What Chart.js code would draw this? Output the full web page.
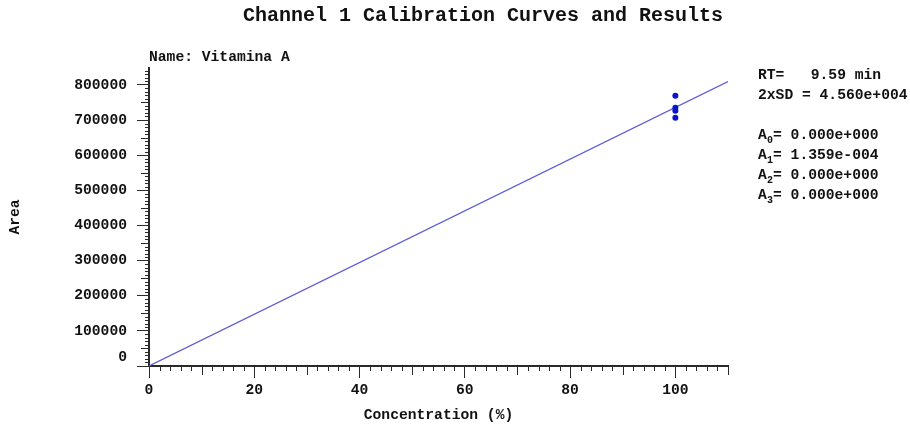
<!DOCTYPE html>
<html>
<head>
<meta charset="utf-8">
<script src="https://cdn.jsdelivr.net/npm/chart.js@4/dist/chart.umd.min.js"></script>
<style>
html,body{margin:0;padding:0;background:#fff;}
#wrap{position:relative;width:910px;height:427px;}
</style>
</head>
<body>
<div id="wrap"><canvas id="c" width="910" height="427"></canvas></div>
<script>
// ---- data ----
const chartTitle = "Channel 1 Calibration Curves and Results";
const compoundName = "Name: Vitamina A";
const xAxisTitle = "Concentration (%)";
const yAxisTitle = "Area";
const calX = [100, 100, 100, 100];
const calY = [769000, 735000, 726500, 706500];
const fitX = [0, 110];
const fitY = [0, 809400];
const xRange = [0, 110];
const yRange = [0, 848000];
const xTickValues = [0, 20, 40, 60, 80, 100];
const yTickValues = [0, 100000, 200000, 300000, 400000, 500000, 600000, 700000, 800000];
const resultLines = ["RT=   9.59 min", "2xSD = 4.560e+004"];
const coefSubs = ["0", "1", "2", "3"];
const coefVals = ["0.000e+000", "1.359e-004", "0.000e+000", "0.000e+000"];

const FONT = '"Liberation Mono", "Courier New", monospace';
const AX = '#2a2a2a';

const minorTicks = {
  id: 'minorTicks',
  afterDraw(chart) {
    const ctx = chart.ctx;
    const xs = chart.scales.x, ys = chart.scales.y;
    const ca = chart.chartArea;
    ctx.save();
    ctx.strokeStyle = AX;
    ctx.lineWidth = 1;
    // y minor ticks
    for (let v = yRange[0]; v <= yRange[1]; v += 10000) {
      if (v % 100000 === 0) continue;
      const len = (v % 50000 === 0) ? 8 : 4;
      const y = Math.round(ys.getPixelForValue(v)) + 0.5;
      ctx.beginPath(); ctx.moveTo(ca.left - len, y); ctx.lineTo(ca.left, y); ctx.stroke();
    }
    // x minor ticks
    for (let v = xRange[0]; v <= xRange[1]; v += 2) {
      if (v % 20 === 0) continue;
      const len = (v % 10 === 0) ? 9 : 5;
      const x = Math.round(xs.getPixelForValue(v)) + 0.5;
      ctx.beginPath(); ctx.moveTo(x, ca.bottom); ctx.lineTo(x, ca.bottom + len); ctx.stroke();
    }
    // texts
    ctx.fillStyle = '#111';
    ctx.textBaseline = 'middle';
    ctx.font = 'bold 20px ' + FONT;
    ctx.textAlign = 'center';
    ctx.fillText(chartTitle, 483, 16);
    ctx.font = 'bold 14.67px ' + FONT;
    ctx.textAlign = 'left';
    ctx.fillText(compoundName, 149, 57);
    const tx = 758;
    ctx.fillText(resultLines[0], tx, 75);
    ctx.fillText(resultLines[1], tx, 95);
    const ys0 = [135, 155, 175, 195];
    for (let i = 0; i < coefSubs.length; i++) {
      ctx.font = 'bold 14.67px ' + FONT;
      ctx.fillText('A', tx, ys0[i]);
      ctx.font = 'bold 10px ' + FONT;
      ctx.fillText(coefSubs[i], tx + 9, ys0[i] + 5);
      ctx.font = 'bold 14.67px ' + FONT;
      ctx.fillText('= ' + coefVals[i], tx + 15, ys0[i]);
    }
    ctx.restore();
  }
};

new Chart(document.getElementById('c'), {
  type: 'scatter',
  data: {
    datasets: [
      {
        type: 'line',
        data: fitX.map((x, i) => ({x, y: fitY[i]})),
        borderColor: '#5a5ad8',
        borderWidth: 1.2,
        pointRadius: 0,
        fill: false,
        order: 2
      },
      {
        data: calX.map((x, i) => ({x, y: calY[i]})),
        backgroundColor: '#0a14c8',
        borderColor: '#0a14c8',
        pointRadius: 3,
        borderWidth: 0,
        order: 1
      }
    ]
  },
  options: {
    responsive: false,
    animation: false,
    layout: { padding: { top: 68, right: 182, left: 0, bottom: 0 } },
    plugins: { legend: { display: false }, tooltip: { enabled: false }, title: { display: false } },
    scales: {
      x: {
        type: 'linear',
        min: xRange[0], max: xRange[1],
        afterFit(s) { s.height = 61; },
        afterBuildTicks(s) { s.ticks = xTickValues.map(v => ({value: v})); },
        ticks: { padding: 4, color: '#111', callback: v => String(v),
                 font: { family: FONT, size: 14.67, weight: 'bold' }, maxRotation: 0, autoSkip: false },
        grid: { drawOnChartArea: false, drawTicks: true, tickLength: 12, color: AX, lineWidth: 1 },
        border: { display: true, color: AX, width: 2 },
        title: { display: true, text: xAxisTitle, color: '#111',
                 font: { family: FONT, size: 14.67, weight: 'bold' }, padding: { top: 0, bottom: 3 } }
      },
      y: {
        type: 'linear',
        min: yRange[0], max: yRange[1],
        afterFit(s) { s.width = 149; },
        afterBuildTicks(s) { s.ticks = yTickValues.map(v => ({value: v})); },
        ticks: { padding: 10, color: '#111', callback: v => (v === 0 ? ['0', ''] : String(v)), autoSkip: false,
                 font: { family: FONT, size: 14.67, weight: 'bold' } },
        grid: { drawOnChartArea: false, drawTicks: true, tickLength: 12, color: AX, lineWidth: 1 },
        border: { display: true, color: AX, width: 2 },
        title: { display: true, text: yAxisTitle, color: '#111',
                 font: { family: FONT, size: 14.67, weight: 'bold' }, padding: { top: 7, bottom: 0 } }
      }
    }
  },
  plugins: [minorTicks]
});
</script>
</body>
</html>
